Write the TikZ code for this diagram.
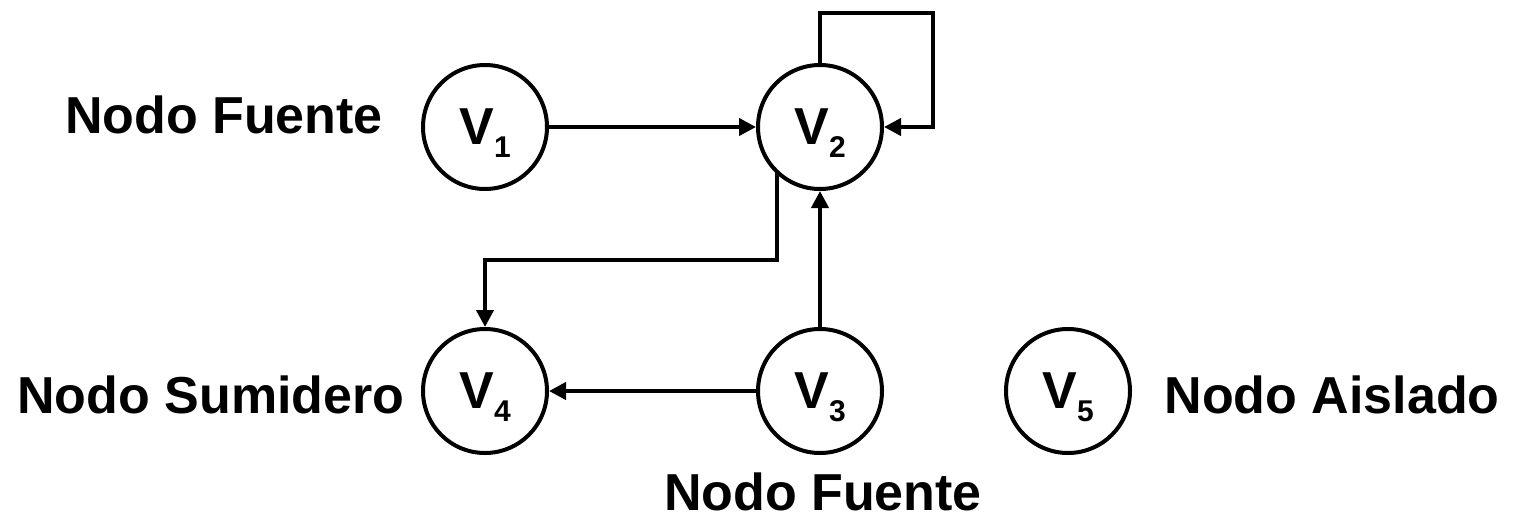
\documentclass[tikz,border=0pt]{standalone}
\usepackage{fontspec}
\setmainfont{Liberation Sans}
\usetikzlibrary{arrows.meta}
\newcommand{\vsub}[1]{V\raisebox{-13pt}[0pt][0pt]{\fontsize{30}{30}\selectfont #1}}
\tikzset{
  vert/.style={circle, draw, line width=4pt, minimum size=124pt, inner sep=0pt,
    font=\fontsize{52}{52}\selectfont\bfseries},
  lbl/.style={anchor=base, inner sep=0pt, font=\fontsize{52}{52}\selectfont\bfseries},
  edge/.style={line width=4pt, -{Triangle[length=17pt,width=17pt]}}
}
\begin{document}
\begin{tikzpicture}[x=1pt,y=-1pt]
\useasboundingbox (0,0) rectangle (1521,517);
\node[vert] (v1) at (485,127) {\vsub{1}};
\node[vert] (v2) at (820,127) {\vsub{2}};
\node[vert] (v4) at (485,391) {\vsub{4}};
\node[vert] (v3) at (820,391) {\vsub{3}};
\node[vert] (v5) at (1068,391) {\vsub{5}};
\node[lbl] (l1) at (224,133) {Nodo Fuente};
\node[lbl] (l4) at (211,413) {Nodo Sumidero};
\node[lbl] (l5) at (1332,413) {Nodo Aislado};
\node[lbl] (l3) at (823,510) {Nodo Fuente};
\coordinate (c1) at (820,13);
\coordinate (c2) at (933,13);
\coordinate (c3) at (933,127);
\coordinate (d1) at (777,260);
\coordinate (d2) at (485,260);
\draw[edge] (v1) -- (v2);
\draw[edge] (v2.north) -- (c1) -- (c2) -- (c3) -- (v2.east);
\draw[edge] (d1 |- v2.226) -- (d1) -- (d2) -- (v4.north);
\draw[edge] (v3.north) -- (v2.south);
\draw[edge] (v3.west) -- (v4.east);
\end{tikzpicture}
\end{document}
